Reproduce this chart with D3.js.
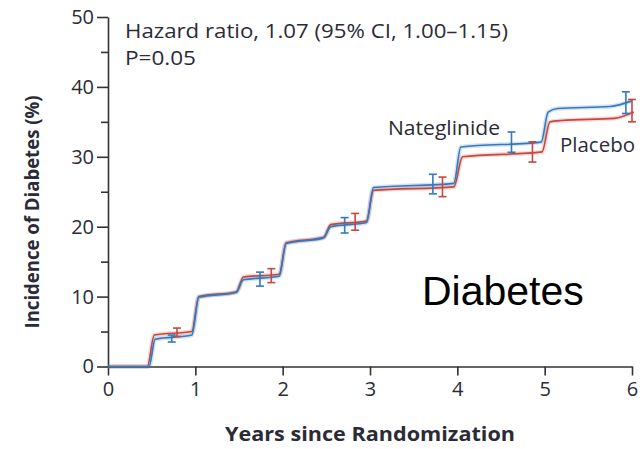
<!DOCTYPE html>
<html>
<head>
<meta charset="utf-8">
<script src="https://cdn.jsdelivr.net/npm/d3@7"></script>
<style>
  html, body { margin: 0; padding: 0; background: #fff; }
  svg { display: block; }
  .lbl { font-family: "Open Sans", "Noto Sans", sans-serif; fill: #2b2b38; }
</style>
</head>
<body>
<svg id="chart" width="643" height="449"></svg>
<script>
// Cumulative incidence knots (years, %) for each arm
const nateglinideYears = [0, 0.47, 0.54, 0.96, 1.04, 1.47, 1.55, 1.96, 2.04, 2.47, 2.55, 2.96, 3.04, 3.96, 4.04, 4.96, 5.04, 5.15, 5.75, 6.0];
const nateglinideValues = [0, 0, 3.9, 4.5, 9.9, 10.6, 12.4, 12.9, 17.6, 18.4, 20.0, 20.6, 25.6, 26.2, 31.4, 32.1, 36.4, 36.9, 37.2, 38.0];
const placeboYears = [0, 0.45, 0.53, 0.96, 1.04, 1.47, 1.55, 1.96, 2.04, 2.47, 2.55, 2.96, 3.04, 3.96, 4.06, 4.97, 5.06, 5.2, 5.8, 6.02];
const placeboValues = [0, 0, 4.5, 5.0, 10.0, 10.7, 12.8, 13.2, 17.7, 18.5, 20.3, 20.8, 25.2, 25.7, 30.0, 30.7, 35.0, 35.2, 35.5, 36.4];

// 95% confidence interval bars: year, estimate, half-width
const nateglinideCIYears = [0.73, 1.74, 2.71, 3.72, 4.62, 5.93];
const nateglinideCIMid = [4.0, 12.5, 20.2, 26.1, 32.1, 37.75];
const nateglinideCIHalf = [0.5, 1.0, 1.1, 1.4, 1.45, 1.55];
const placeboCIYears = [0.79, 1.87, 2.83, 3.83, 4.86, 6.0];
const placeboCIMid = [4.9, 13.0, 20.7, 25.7, 30.7, 36.6];
const placeboCIHalf = [0.6, 1.0, 1.2, 1.4, 1.45, 1.6];

const xTicks = [0, 1, 2, 3, 4, 5, 6];
const yTicks = [0, 10, 20, 30, 40, 50];
const yMinorTicks = [5, 15, 25, 35, 45];

const svg = d3.select("#chart");
const x = d3.scaleLinear().domain([0, 6]).range([108, 632]);
const y = d3.scaleLinear().domain([0, 50]).range([366.5, 17]);

const axisColor = "#333";
const blue = "#3479be";
const red = "#c8473e";

// Y axis with major and minor ticks
svg.append("g").attr("transform", `translate(${x(0)},0)`)
  .call(d3.axisLeft(y).tickValues(yTicks).tickFormat(d3.format("d"))
    .tickSize(11).tickSizeOuter(0).tickPadding(3));
svg.append("g").attr("transform", `translate(${x(0)},0)`)
  .call(d3.axisLeft(y).tickValues(yMinorTicks).tickSize(7).tickFormat(""))
  .call(g => g.select(".domain").remove());

// X axis
svg.append("g").attr("transform", `translate(0,${y(0)})`)
  .call(d3.axisBottom(x).tickValues(xTicks).tickFormat(d3.format("d"))
    .tickSize(9).tickSizeOuter(0).tickPadding(6));

svg.selectAll(".domain, .tick line").attr("stroke", axisColor).attr("stroke-width", 1.6);
svg.selectAll(".tick text")
  .style("font-family", "'Open Sans', 'Noto Sans', sans-serif")
  .style("font-size", "20px")
  .attr("fill", "#2b2b38");

// Axis titles
svg.append("text").attr("class", "lbl")
  .attr("x", 370).attr("y", 441)
  .attr("text-anchor", "middle")
  .style("font-size", "20px").style("font-weight", "bold")
  .attr("textLength", 290).attr("lengthAdjust", "spacingAndGlyphs")
  .text("Years since Randomization");

svg.append("text").attr("class", "lbl")
  .attr("transform", "translate(39,212) rotate(-90)")
  .attr("text-anchor", "middle")
  .style("font-size", "20px").style("font-weight", "bold")
  .attr("textLength", 233).attr("lengthAdjust", "spacingAndGlyphs")
  .text("Incidence of Diabetes (%)");

// Cumulative incidence curves
const line = d3.line().x(d => x(d[0])).y(d => y(d[1])).curve(d3.curveMonotoneX);
const series = [
  { pts: d3.zip(placeboYears, placeboValues), color: red,
    ci: d3.zip(placeboCIYears, placeboCIMid, placeboCIHalf) },
  { pts: d3.zip(nateglinideYears, nateglinideValues), color: blue,
    ci: d3.zip(nateglinideCIYears, nateglinideCIMid, nateglinideCIHalf) }
];

series.forEach(s => {
  svg.append("path").datum(s.pts).attr("d", line)
    .attr("fill", "none").attr("stroke", s.color).attr("stroke-width", 4.5).attr("stroke-opacity", 0.2);
  svg.append("path").datum(s.pts).attr("d", line)
    .attr("fill", "none").attr("stroke", s.color).attr("stroke-width", 1.6);
});

// Confidence interval bars
series.forEach(s => {
  const g = svg.append("g").attr("stroke", s.color).attr("stroke-width", 1.6);
  s.ci.forEach(([t, m, h]) => {
    const cx = x(t);
    g.append("line").attr("x1", cx).attr("x2", cx).attr("y1", y(m - h)).attr("y2", y(m + h));
    g.append("line").attr("x1", cx - 4).attr("x2", cx + 4).attr("y1", y(m - h)).attr("y2", y(m - h));
    g.append("line").attr("x1", cx - 4).attr("x2", cx + 4).attr("y1", y(m + h)).attr("y2", y(m + h));
  });
});

// Annotations
svg.append("text").attr("class", "lbl").attr("x", 125).attr("y", 38)
  .style("font-size", "20px")
  .attr("textLength", 383).attr("lengthAdjust", "spacingAndGlyphs")
  .text("Hazard ratio, 1.07 (95% CI, 1.00\u20131.15)");
svg.append("text").attr("class", "lbl").attr("x", 125).attr("y", 65)
  .style("font-size", "20px")
  .attr("textLength", 71).attr("lengthAdjust", "spacingAndGlyphs")
  .text("P=0.05");
svg.append("text").attr("class", "lbl").attr("x", 388).attr("y", 135)
  .style("font-size", "20px")
  .attr("textLength", 112).attr("lengthAdjust", "spacingAndGlyphs")
  .text("Nateglinide");
svg.append("text").attr("class", "lbl").attr("x", 560).attr("y", 152)
  .style("font-size", "20px")
  .attr("textLength", 75).attr("lengthAdjust", "spacingAndGlyphs")
  .text("Placebo");

svg.append("text")
  .attr("x", 422).attr("y", 305)
  .style("font-family", "'Liberation Sans', Arial, sans-serif")
  .style("font-size", "41px")
  .attr("fill", "#000")
  .text("Diabetes");
</script>
</body>
</html>
